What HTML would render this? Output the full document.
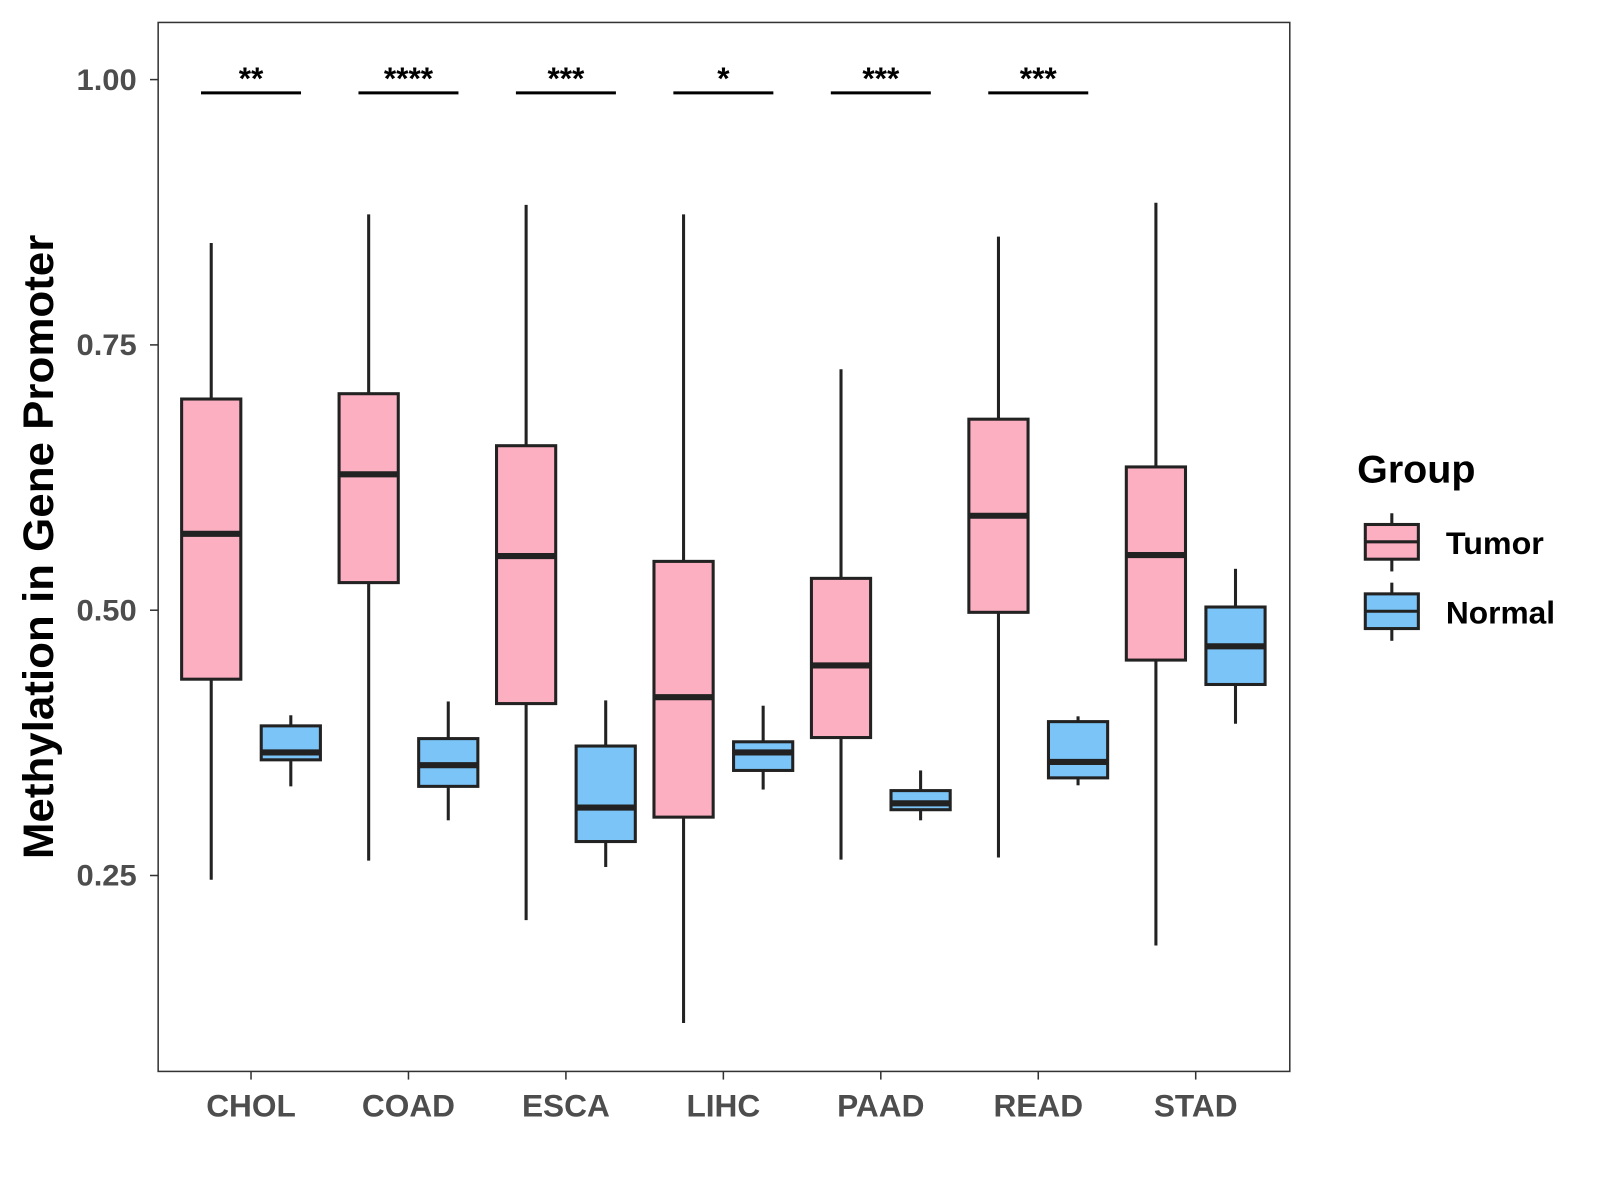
<!DOCTYPE html>
<html><head><meta charset="utf-8"><style>
body{margin:0;background:#fff;}
svg{display:block;font-family:"Liberation Sans",Arial,sans-serif;}
</style></head><body>
<svg id="chart" width="1600" height="1200" viewBox="0 0 1600 1200">
<g transform="scale(1.0204)">
<rect x="155" y="22" width="1109" height="1028" fill="#fff" stroke="#333" stroke-width="1.5"/>
<g id="yaxis"></g>
<g id="xaxis"></g>
<g id="marks"></g>
<g id="sig"></g>
<text x="52" y="536" transform="rotate(-90 52 536)" text-anchor="middle" font-size="42" font-weight="bold" fill="#000" textLength="612" lengthAdjust="spacingAndGlyphs">Methylation in Gene Promoter</text>
<g>
<text x="1330" y="473" font-size="38" font-weight="bold" textLength="116" lengthAdjust="spacingAndGlyphs">Group</text>
<g>
<line x1="1364" y1="503" x2="1364" y2="560" stroke="#222" stroke-width="3"/>
<rect x="1338" y="514" width="52" height="34" fill="#FDAFC2" stroke="#222" stroke-width="3"/>
<line x1="1338" y1="531" x2="1390" y2="531" stroke="#222" stroke-width="3"/>
<text x="1417" y="543" font-size="31" font-weight="bold" textLength="96" lengthAdjust="spacingAndGlyphs">Tumor</text>
</g>
<g>
<line x1="1364" y1="571" x2="1364" y2="628" stroke="#222" stroke-width="3"/>
<rect x="1338" y="582" width="52" height="34" fill="#7BC4F8" stroke="#222" stroke-width="3"/>
<line x1="1338" y1="599" x2="1390" y2="599" stroke="#222" stroke-width="3"/>
<text x="1417" y="611" font-size="31" font-weight="bold" textLength="107" lengthAdjust="spacingAndGlyphs">Normal</text>
</g>
</g>
</g>
</svg>
<script>
const categories=["CHOL","COAD","ESCA","LIHC","PAAD","READ","STAD"];
// [min, q1, median, q3, max]
const tumorStats=[[0.246,0.435,0.572,0.699,0.846],[0.264,0.526,0.628,0.704,0.873],[0.208,0.412,0.551,0.655,0.882],[0.111,0.305,0.418,0.546,0.873],[0.265,0.380,0.448,0.530,0.727],[0.267,0.498,0.589,0.680,0.852],[0.184,0.453,0.552,0.635,0.884]];
const normalStats=[[0.334,0.359,0.366,0.391,0.401],[0.302,0.334,0.354,0.379,0.414],[0.258,0.282,0.314,0.372,0.415],[0.331,0.349,0.366,0.376,0.410],[0.302,0.312,0.318,0.330,0.349],[0.335,0.342,0.357,0.395,0.400],[0.393,0.430,0.466,0.503,0.539]];
const sigLabels=["**","****","***","*","***","***",""];
const yTicks=[0.25,0.50,0.75,1.00];
const yTickLabels=["0.25","0.50","0.75","1.00"];
const NS="http://www.w3.org/2000/svg";
function y(v){return 78+(1-v)*1040;}
function x(i){return 246+i*154.3;}
function mk(tag,attrs,parent){const e=document.createElementNS(NS,tag);for(const k in attrs)e.setAttribute(k,attrs[k]);parent.appendChild(e);return e;}
const ya=document.getElementById('yaxis'),xa=document.getElementById('xaxis'),mg=document.getElementById('marks'),sg=document.getElementById('sig');
yTicks.forEach((t,i)=>{
 const l=mk('line',{x1:147,x2:155,y1:y(t),y2:y(t),stroke:'#333','stroke-width':1.5},ya);
 
 
 const tx=mk('text',{x:134,y:y(t)+10,'text-anchor':'end','font-size':29,'font-weight':'bold',fill:'#4d4d4d',textLength:59,lengthAdjust:'spacingAndGlyphs'},ya);
 tx.textContent=yTickLabels[i];
 
 
});
function box(cx,s,fill,name){
 const g=mk('g',{},mg);
 
 
 const w=58;
 mk('line',{x1:cx,x2:cx,y1:y(s[4]),y2:y(s[3]),stroke:'#222','stroke-width':3},g);
 mk('line',{x1:cx,x2:cx,y1:y(s[1]),y2:y(s[0]),stroke:'#222','stroke-width':3},g);
 mk('rect',{x:cx-w/2,y:y(s[3]),width:w,height:y(s[1])-y(s[3]),fill:fill,stroke:'#222','stroke-width':3},g);
 mk('line',{x1:cx-w/2,x2:cx+w/2,y1:y(s[2]),y2:y(s[2]),stroke:'#222','stroke-width':6},g);
}
categories.forEach((c,i)=>{
 const cx=x(i);
 const tk=mk('line',{x1:cx,x2:cx,y1:1050,y2:1058,stroke:'#333','stroke-width':1.5},xa);
 
 
 const tx=mk('text',{x:cx,y:1094,'text-anchor':'middle','font-size':31,'font-weight':'bold',fill:'#4d4d4d'},xa);
 tx.textContent=c;
 
 
 box(cx-39,tumorStats[i],'#FDAFC2','box-tumor-'+c.toLowerCase());
 box(cx+39,normalStats[i],'#7BC4F8','box-normal-'+c.toLowerCase());
 if(sigLabels[i]){
  const ln=mk('line',{x1:cx-49,x2:cx+49,y1:91,y2:91,stroke:'#000','stroke-width':3},sg);
  
  
  const st=mk('text',{x:cx,y:87,'text-anchor':'middle','font-size':31,'font-weight':'bold',fill:'#000'},sg);
  st.textContent=sigLabels[i];
  
  
 }
});
</script>
</body></html>
